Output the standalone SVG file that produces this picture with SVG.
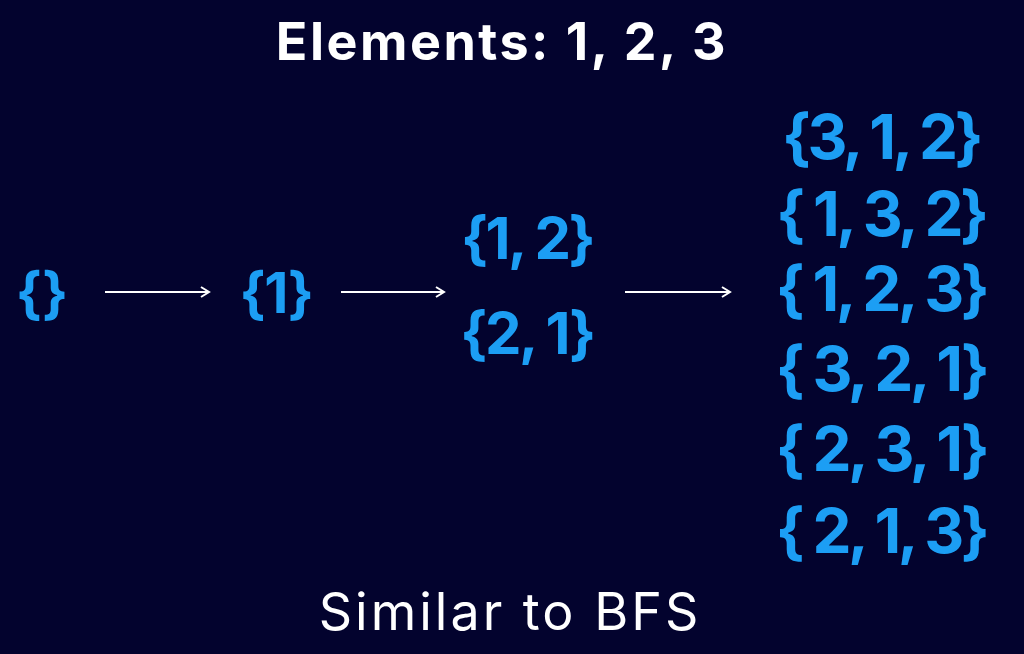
<svg xmlns="http://www.w3.org/2000/svg" width="1024" height="654" viewBox="0 0 1024 654">
<style>
.t{font-family:Inter,"Open Sans","Liberation Sans",sans-serif;fill:#ffffff}
.s{font-family:Inter,"Open Sans","Liberation Sans",sans-serif;fill:#1c9ef4;font-weight:700}
.r{letter-spacing:-3.5px}
.c{stroke:#ffffff;stroke-width:2;fill:none}
</style>
<defs>
<marker id="ah" markerWidth="12" markerHeight="12" refX="10" refY="6" orient="auto" markerUnits="userSpaceOnUse">
<path d="M2,1 L10,6 L2,11" fill="none" stroke="#ffffff" stroke-width="2"/>
</marker>
</defs>
<rect width="1024" height="654" fill="#03032e"/>
<text class="t" x="502" y="60" font-size="52" font-weight="700" text-anchor="middle" letter-spacing="2.5">Elements: 1, 2, 3</text>
<text class="t" x="510" y="630" font-size="52" font-weight="400" text-anchor="middle" letter-spacing="3">Similar to BFS</text>
<g id="connectors">
<line class="c" x1="105" y1="292" x2="209" y2="292" marker-end="url(#ah)"/>
<line class="c" x1="341" y1="292" x2="444" y2="292" marker-end="url(#ah)"/>
<line class="c" x1="625" y1="292" x2="730" y2="292" marker-end="url(#ah)"/>
</g>
<g id="n0"><text class="s" x="42" y="313" font-size="56" text-anchor="middle">{}</text></g>
<g id="n1"><text class="s" x="276" y="313" font-size="56" text-anchor="middle" letter-spacing="-1.5">{1}</text></g>
<g id="n12"><text class="s" x="527" y="259" font-size="58" text-anchor="middle" letter-spacing="-2.5">{1, 2}</text></g>
<g id="n21"><text class="s" x="527" y="354" font-size="58" text-anchor="middle" letter-spacing="-2.5">{2, 1}</text></g>
<g id="p1"><text class="s r" x="881" y="159" font-size="62" text-anchor="middle">{3, 1, 2}</text></g>
<g id="p2"><text class="s r" x="881" y="236" font-size="62" text-anchor="middle">{ 1, 3, 2}</text></g>
<g id="p3"><text class="s r" x="881" y="311" font-size="62" text-anchor="middle">{ 1, 2, 3}</text></g>
<g id="p4"><text class="s r" x="881" y="391" font-size="62" text-anchor="middle">{ 3, 2, 1}</text></g>
<g id="p5"><text class="s r" x="881" y="471" font-size="62" text-anchor="middle">{ 2, 3, 1}</text></g>
<g id="p6"><text class="s r" x="881" y="553" font-size="62" text-anchor="middle">{ 2, 1, 3}</text></g>
</svg>
